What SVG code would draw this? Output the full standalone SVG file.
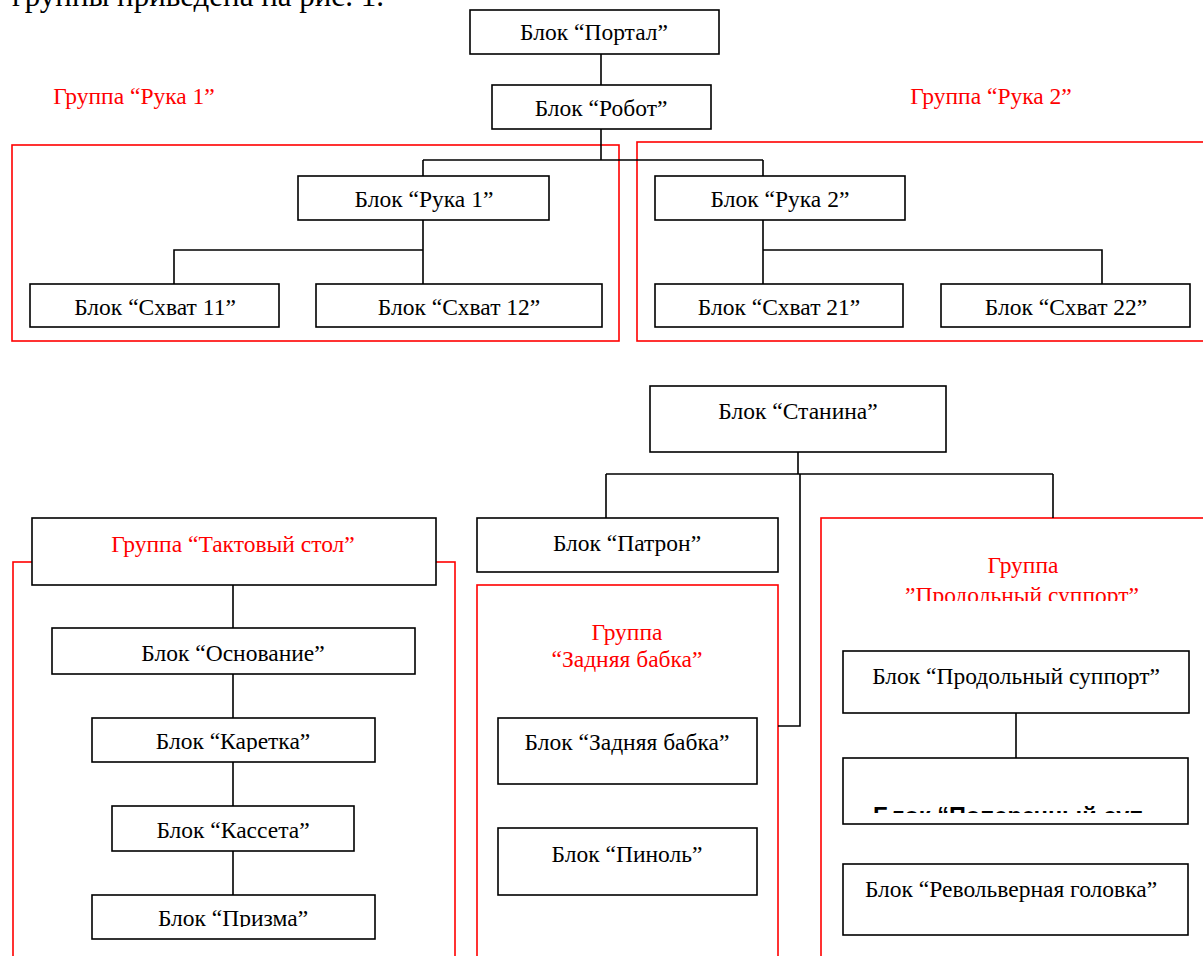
<svg xmlns="http://www.w3.org/2000/svg" width="1203" height="956" viewBox="0 0 1203 956">
<style>
.box{fill:#fff;stroke:#000;stroke-width:1.6}
.grp{fill:none;stroke:#f00;stroke-width:1.6}
.ln{fill:none;stroke:#000;stroke-width:1.6}
text{font-family:"Liberation Serif","Times New Roman",serif;font-size:23.5px;fill:#000;text-anchor:middle}
.red{fill:#f00}
.bold{font-family:"Liberation Sans",Arial,sans-serif;font-weight:bold;text-anchor:start}
</style>
<defs>
<clipPath id="cPs"><rect x="821" y="520" width="382" height="81"/></clipPath>
<clipPath id="cKar"><rect x="92" y="718" width="283" height="34"/></clipPath>
<clipPath id="cPri"><rect x="92" y="895" width="283" height="32"/></clipPath>
<clipPath id="cPop"><rect x="843" y="759" width="345" height="54"/></clipPath>
</defs>
<text x="12" y="6" style="font-size:31px;text-anchor:start">группы приведена на рис. 1.</text>

<g id="groups">
<rect id="grp-ruka1" class="grp" x="12" y="145" width="607" height="196"/>
<rect id="grp-ruka2" class="grp" x="637" y="142" width="580" height="199"/>
<rect id="grp-takt" class="grp" x="13" y="562" width="442" height="410"/>
<rect id="grp-zadn" class="grp" x="477" y="585" width="301" height="390"/>
<rect id="grp-prod" class="grp" x="821" y="518" width="400" height="460"/>
<text class="red" x="134" y="104">Группа “Рука 1”</text>
<text class="red" x="991" y="104">Группа “Рука 2”</text>
<text class="red" x="627" y="640">Группа</text>
<text class="red" x="627" y="667">“Задняя бабка”</text>
<text class="red" x="1023" y="573">Группа</text>
<text class="red" x="1022" y="603" clip-path="url(#cPs)">”Продольный суппорт”</text>
</g>

<g id="connectors">
<path class="ln" d="M601 54V85M601 129V160M423 160H763M423 160V176M763 160V176"/>
<path class="ln" d="M423 220V250H174V284M423 250V284"/>
<path class="ln" d="M763 220V250H1102V284M763 250V284"/>
<path class="ln" d="M798 452V474M606 474H1053M606 474V518M1053 474V518M800 474V726H778"/>
<path class="ln" d="M233 585V628M233 674V718M233 762V806M233 851V895"/>
<path class="ln" d="M1016 713V758"/>
</g>

<g id="n-portal"><rect class="box" x="470" y="10" width="249" height="44"/><text x="594" y="40">Блок “Портал”</text></g>
<g id="n-robot"><rect class="box" x="492" y="85" width="219" height="44"/><text x="601" y="116">Блок “Робот”</text></g>
<g id="n-ruka1"><rect class="box" x="298" y="176" width="251" height="44"/><text x="424" y="207">Блок “Рука 1”</text></g>
<g id="n-ruka2"><rect class="box" x="655" y="176" width="250" height="44"/><text x="780" y="207">Блок “Рука 2”</text></g>
<g id="n-sh11"><rect class="box" x="30" y="284" width="249" height="43"/><text x="155" y="315">Блок “Схват 11”</text></g>
<g id="n-sh12"><rect class="box" x="316" y="284" width="286" height="43"/><text x="459" y="315">Блок “Схват 12”</text></g>
<g id="n-sh21"><rect class="box" x="655" y="284" width="248" height="43"/><text x="779" y="315">Блок “Схват 21”</text></g>
<g id="n-sh22"><rect class="box" x="941" y="284" width="249" height="43"/><text x="1066" y="315">Блок “Схват 22”</text></g>

<g id="n-stanina"><rect class="box" x="650" y="386" width="296" height="66"/><text x="798" y="419">Блок “Станина”</text></g>
<g id="n-patron"><rect class="box" x="477" y="518" width="301" height="54"/><text x="627" y="551">Блок “Патрон”</text></g>
<g id="n-takt"><rect class="box" x="32" y="518" width="404" height="67"/><text class="red" x="233" y="552">Группа “Тактовый стол”</text></g>
<g id="n-osn"><rect class="box" x="52" y="628" width="363" height="46"/><text x="233" y="661">Блок “Основание”</text></g>
<g id="n-kar"><rect class="box" x="92" y="718" width="283" height="44"/><text x="233" y="749" clip-path="url(#cKar)">Блок “Каретка”</text></g>
<g id="n-kas"><rect class="box" x="112" y="806" width="242" height="45"/><text x="233" y="838">Блок “Кассета”</text></g>
<g id="n-pri"><rect class="box" x="92" y="895" width="283" height="44"/><text x="233" y="926" clip-path="url(#cPri)">Блок “Призма”</text></g>
<g id="n-zb"><rect class="box" x="498" y="718" width="259" height="66"/><text x="627" y="750">Блок “Задняя бабка”</text></g>
<g id="n-pin"><rect class="box" x="498" y="828" width="259" height="67"/><text x="627" y="862">Блок “Пиноль”</text></g>
<g id="n-prod"><rect class="box" x="843" y="651" width="346" height="62"/><text x="1016" y="684">Блок “Продольный суппорт”</text></g>
<g id="n-pop"><rect class="box" x="843" y="758" width="345" height="66"/><text class="bold" x="873" y="824" style="font-size:23.5px" clip-path="url(#cPop)">Блок “Поперечный суп</text></g>
<g id="n-rev"><rect class="box" x="843" y="864" width="345" height="71"/><text x="1011" y="897">Блок “Револьверная головка”</text></g>
</svg>
